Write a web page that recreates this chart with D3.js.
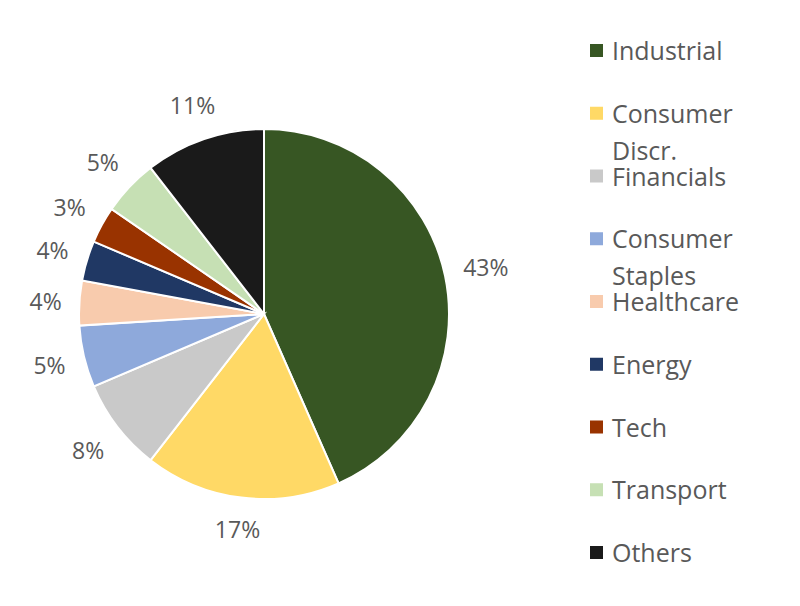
<!DOCTYPE html>
<meta charset="utf-8">
<script src="https://d3js.org/d3.v7.min.js"></script>
<style>
body { margin: 0; background: #fff; }
text { font-family: "Open Sans", "Liberation Sans", sans-serif; fill: #595959; }
</style>
<body>
<div id="chart"></div>
<script>

// data (slice shares in %)
var sectors = ["Industrial", "Consumer Discr.", "Financials", "Consumer Staples", "Healthcare", "Energy", "Tech", "Transport", "Others"];
var shares = [43.4, 17.1, 8.1, 5.4, 3.9, 3.5, 3.2, 4.9, 10.5];
var legendLines = [["Industrial"], ["Consumer", "Discr."], ["Financials"], ["Consumer", "Staples"], ["Healthcare"], ["Energy"], ["Tech"], ["Transport"], ["Others"]];
var colors = ["#375623", "#FFD966", "#C9C9C9", "#8EA9DB", "#F8CBAD", "#203864", "#993300", "#C6E0B4", "#1A1A1A"];

var width = 800, height = 606;
var cx = 264, cy = 314, radius = 185;

var svg = d3.select("#chart")
  .append("svg")
    .attr("width", width)
    .attr("height", height);

var data = sectors.map(function(s, i) { return {name: s, value: shares[i], color: colors[i], lines: legendLines[i]}; });

var pie = d3.pie()
  .sort(null)
  .value(function(d) { return d.value; });

var arc = d3.arc()
  .innerRadius(0)
  .outerRadius(radius);

var g = svg.append("g")
  .attr("transform", "translate(" + cx + "," + cy + ")");

var arcs = pie(data);

g.selectAll("path")
  .data(arcs)
  .enter()
  .append("path")
    .attr("d", arc)
    .attr("fill", function(d) { return d.data.color; })
    .attr("stroke", "#fff")
    .attr("stroke-width", 2);

// percentage labels just outside the rim
var gap = 17;
var labels = g.selectAll(".pct")
  .data(arcs)
  .enter()
  .append("text")
    .attr("class", "pct")
    .attr("text-anchor", "middle")
    .attr("dominant-baseline", "central")
    .style("font-size", "23px")
    .text(function(d) { return Math.round(d.data.value) + "%"; });

labels.each(function(d) {
  var w = this.getComputedTextLength(), h = 24;
  var a = (d.startAngle + d.endAngle) / 2;
  var s = Math.sin(a), c = -Math.cos(a);
  var r = radius + gap + Math.abs(s) * w / 2 + Math.abs(c) * h / 2;
  d3.select(this).attr("x", r * s).attr("y", r * c);
});

// legend
var legend = svg.append("g")
  .attr("transform", "translate(590,50)");

var item = legend.selectAll(".item")
  .data(data)
  .enter()
  .append("g")
    .attr("class", "item")
    .attr("transform", function(d, i) { return "translate(0," + (i * 62.75) + ")"; });

item.append("rect")
  .attr("x", 0)
  .attr("y", -6)
  .attr("width", 13)
  .attr("height", 13)
  .attr("fill", function(d) { return d.color; });

item.append("text")
  .attr("x", 22)
  .attr("dominant-baseline", "central")
  .style("font-size", "25px")
  .selectAll("tspan")
  .data(function(d) { return d.lines; })
  .enter()
  .append("tspan")
    .attr("x", 22)
    .attr("y", function(d, i) { return i * 37; })
    .text(function(d) { return d; });

</script>
</body>
